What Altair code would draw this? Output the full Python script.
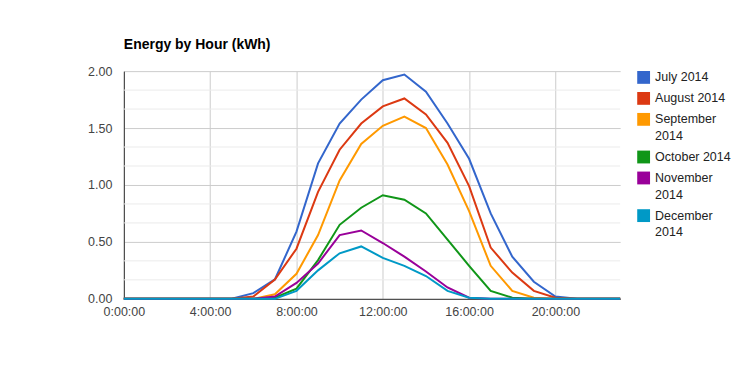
import altair as alt
import pandas as pd

hours = list(range(24))
months = ["July 2014", "August 2014", "September 2014", "October 2014", "November 2014", "December 2014"]
legend_lines = [["July 2014"], ["August 2014"], ["September", "2014"], ["October 2014"],
                ["November", "2014"], ["December", "2014"]]
colors = ["#3366cc", "#dc3912", "#ff9900", "#109618", "#990099", "#0099c6"]

july = [0, 0, 0, 0, 0, 0, 0.05, 0.17, 0.59, 1.19, 1.54, 1.75, 1.92, 1.97, 1.82, 1.54, 1.23, 0.75, 0.37, 0.15, 0.02, 0, 0, 0]
august = [0, 0, 0, 0, 0, 0, 0.02, 0.17, 0.44, 0.94, 1.31, 1.54, 1.69, 1.76, 1.62, 1.37, 0.99, 0.45, 0.23, 0.07, 0.01, 0, 0, 0]
september = [0, 0, 0, 0, 0, 0, 0, 0.04, 0.22, 0.56, 1.04, 1.36, 1.52, 1.60, 1.50, 1.18, 0.77, 0.29, 0.07, 0.01, 0, 0, 0, 0]
october = [0, 0, 0, 0, 0, 0, 0, 0.01, 0.09, 0.34, 0.65, 0.80, 0.91, 0.87, 0.75, 0.52, 0.29, 0.07, 0.01, 0, 0, 0, 0, 0]
november = [0, 0, 0, 0, 0, 0, 0, 0.02, 0.14, 0.31, 0.56, 0.60, 0.49, 0.37, 0.24, 0.10, 0.01, 0, 0, 0, 0, 0, 0, 0]
december = [0, 0, 0, 0, 0, 0, 0, 0, 0.07, 0.25, 0.40, 0.46, 0.36, 0.29, 0.20, 0.07, 0.01, 0, 0, 0, 0, 0, 0, 0]

series = [july, august, september, october, november, december]
x_ticks = [0, 4, 8, 12, 16, 20]
y_ticks = [0, 0.5, 1.0, 1.5, 2.0]
minor_y = [k / 6 for k in range(13) if k % 3 != 0]

rows = []
for m, vals in zip(months, series):
    for h, v in zip(hours, vals):
        rows.append({"hour": h, "kwh": v, "month": m})
df = pd.DataFrame(rows)
minor_df = pd.DataFrame({"y": minor_y})

# legend layout (row spacing / extra line height, in legend units)
ROW = 21.0
LINE = 16.7
FIRST = 6.3
sym_rows, txt_rows = [], []
pos = FIRST
for m, lines_ in zip(months, legend_lines):
    sym_rows.append({"month": m, "pos": pos})
    for i, t in enumerate(lines_):
        txt_rows.append({"month": m, "text": t, "pos": pos + i * LINE})
    pos += ROW + (len(lines_) - 1) * LINE
sym_df = pd.DataFrame(sym_rows)
txt_df = pd.DataFrame(txt_rows)

FONT = "Liberation Sans"
H = 228
LW = 100

y_scale = alt.Scale(domain=[0, 2], nice=False)
x_scale = alt.Scale(domain=[0, 23], nice=False)
color_scale = alt.Scale(domain=months, range=colors)

minor = alt.Chart(minor_df).mark_rule(color="#ebebeb", strokeWidth=1).encode(
    y=alt.Y("y:Q", scale=y_scale)
)

lines = alt.Chart(df).mark_line(strokeWidth=2).encode(
    x=alt.X("hour:Q", scale=x_scale, title=None,
            axis=alt.Axis(values=x_ticks, labelExpr="datum.value + ':00:00'",
                          labelFlush=False, ticks=False, grid=True, gridColor="#cccccc",
                          domainColor="#333333", labelFont=FONT, labelFontSize=12.5,
                          labelColor="#444444", labelPadding=7)),
    y=alt.Y("kwh:Q", scale=y_scale, title=None,
            axis=alt.Axis(values=y_ticks, format=".2f", ticks=False, grid=True,
                          gridColor="#cccccc", domainColor="#333333", labelFont=FONT,
                          labelFontSize=12.5, labelColor="#444444", labelPadding=12)),
    color=alt.Color("month:N", sort=months, scale=color_scale, legend=None),
)

main = alt.layer(minor, lines).properties(width=497, height=H)

leg_y = alt.Scale(domain=[0, H], reverse=True, nice=False, zero=False)
leg_x = alt.Scale(domain=[0, LW], nice=False, zero=False)

leg_sym = alt.Chart(sym_df).mark_square(size=165, opacity=1, strokeWidth=0).encode(
    x=alt.X("col:Q", scale=leg_x, axis=None),
    y=alt.Y("pos:Q", scale=leg_y, axis=None),
    color=alt.Color("month:N", sort=months, scale=color_scale, legend=None),
).transform_calculate(col="6.5")

leg_txt = alt.Chart(txt_df).mark_text(align="left", baseline="middle", font=FONT,
                                      fontSize=12.5, color="#222222").encode(
    x=alt.X("col:Q", scale=leg_x, axis=None),
    y=alt.Y("pos:Q", scale=leg_y, axis=None),
    text="text:N",
).transform_calculate(col="18")

legend = alt.layer(leg_sym, leg_txt).properties(width=LW, height=H)

chart = alt.hconcat(main, legend, spacing=13).properties(
    padding={"left": 79, "top": 30, "right": 0, "bottom": 0},
    title=alt.Title("Energy by Hour (kWh)", anchor="start", frame="group",
                    font=FONT, fontSize=14, fontWeight="bold", color="#000000",
                    baseline="alphabetic", offset=2),
    background="white",
).configure_view(stroke=None)

chart.save("out.html", embed_options={"renderer": "svg", "actions": False})
